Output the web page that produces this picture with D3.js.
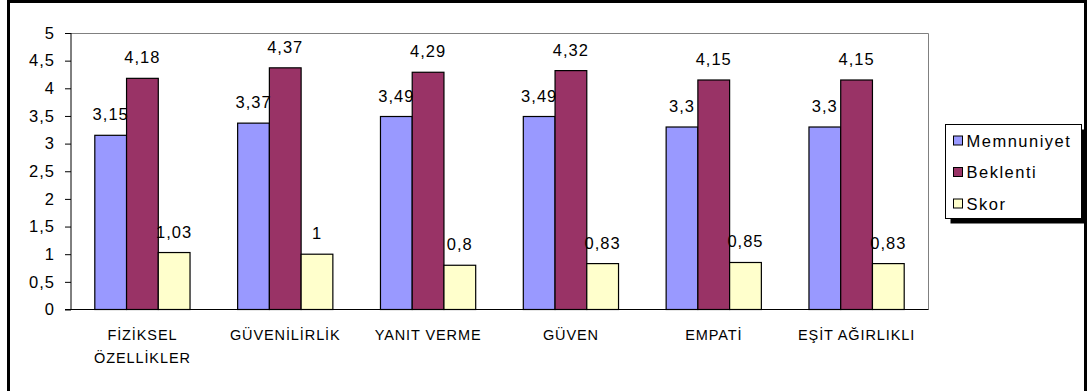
<!DOCTYPE html>
<html>
<head>
<meta charset="utf-8">
<script src="https://cdn.jsdelivr.net/npm/d3@7"></script>
<style>
  html, body { margin: 0; padding: 0; background: #fff; overflow: hidden; }
  svg { display: block; }
  text { font-family: "Liberation Sans", Arial, sans-serif; fill: #000; }
</style>
</head>
<body>
<svg id="chart" width="1088" height="391"></svg>
<script>
// Service quality dimensions and their scores
const categories = [["FİZİKSEL", "ÖZELLİKLER"], ["GÜVENİLİRLİK"], ["YANIT VERME"], ["GÜVEN"], ["EMPATİ"], ["EŞİT AĞIRLIKLI"]];
const seriesNames = ["Memnuniyet", "Beklenti", "Skor"];
const memnuniyet = [3.15, 3.37, 3.49, 3.49, 3.3, 3.3];
const beklenti = [4.18, 4.37, 4.29, 4.32, 4.15, 4.15];
const skor = [1.03, 1, 0.8, 0.83, 0.85, 0.83];
const yTicks = [0, 0.5, 1, 1.5, 2, 2.5, 3, 3.5, 4, 4.5, 5];
const colors = ["#9999FF", "#993366", "#FFFFCC"];

const seriesValues = [memnuniyet, beklenti, skor];
const fmt = v => String(v).replace(".", ",");

const svg = d3.select("#chart");

// Outer chart frame
svg.append("rect")
  .attr("x", 8.5).attr("y", 1.5)
  .attr("width", 1077).attr("height", 400)
  .attr("fill", "#fff").attr("stroke", "#000").attr("stroke-width", 3);

const plot = { left: 71, right: 928, top: 33, bottom: 309.5 };

const x0 = d3.scaleBand()
  .domain(d3.range(categories.length))
  .range([plot.left, plot.right])
  .paddingInner(0).paddingOuter(0);

const barW = x0.bandwidth() / 4.5;
const x1 = d3.scaleBand()
  .domain(d3.range(seriesNames.length))
  .range([0, barW * 3]);

const y = d3.scaleLinear().domain([0, 5]).range([plot.bottom, plot.top]);

// Plot area border (top and right)
svg.append("path")
  .attr("d", `M${plot.left},${plot.top + 0.5}H${plot.right + 0.5}V${plot.bottom}`)
  .attr("fill", "none").attr("stroke", "#808080").attr("stroke-width", 1);

// Bars
const groups = svg.append("g").selectAll("g")
  .data(categories)
  .join("g")
  .attr("transform", (d, i) => `translate(${x0(i) + (x0.bandwidth() - barW * 3) / 2},0)`);

groups.selectAll("rect")
  .data((d, i) => seriesValues.map((vals, s) => ({ s, v: vals[i] })))
  .join("rect")
  .attr("x", d => x1(d.s))
  .attr("y", d => y(d.v))
  .attr("width", x1.bandwidth())
  .attr("height", d => y(0) - y(d.v))
  .attr("fill", d => colors[d.s])
  .attr("stroke", "#000").attr("stroke-width", 1.2);

// Value labels
groups.selectAll("text.val")
  .data((d, i) => seriesValues.map((vals, s) => ({ s, v: vals[i] })))
  .join("text")
  .attr("class", "val")
  .attr("x", d => x1(d.s) + x1.bandwidth() / 2)
  .attr("y", d => y(d.v) - 15)
  .attr("text-anchor", "middle")
  .attr("font-size", 16.5)
  .attr("letter-spacing", 1)
  .text(d => fmt(d.v));

// Value axis
const yAxis = d3.axisLeft(y).tickValues(yTicks).tickSize(6).tickPadding(10).tickFormat(fmt);
const gy = svg.append("g").attr("transform", `translate(${plot.left},0)`).call(yAxis);
gy.select(".domain").attr("stroke", "#000").attr("d", `M0,${plot.top}V${plot.bottom}`);
gy.selectAll(".tick line").attr("stroke", "#000");
gy.selectAll(".tick text")
  .attr("font-size", 16.5).attr("letter-spacing", 1)
  .attr("font-family", "Liberation Sans, Arial, sans-serif")
  .attr("fill", "#000");

// Category axis baseline
svg.append("line")
  .attr("x1", plot.left - 6).attr("x2", plot.right + 0.5)
  .attr("y1", y(0)).attr("y2", y(0))
  .attr("stroke", "#000").attr("stroke-width", 1.2);

// Category labels
const catLabels = svg.append("g").selectAll("text")
  .data(categories)
  .join("text")
  .attr("x", (d, i) => x0(i) + x0.bandwidth() / 2)
  .attr("y", 340)
  .attr("text-anchor", "middle")
  .attr("font-size", 14.5)
  .attr("letter-spacing", 0.9);
catLabels.selectAll("tspan")
  .data(d => d)
  .join("tspan")
  .attr("x", function () { return d3.select(this.parentNode).attr("x"); })
  .attr("dy", (d, i) => i === 0 ? 0 : 23)
  .text(d => d);

// Legend with drop shadow
const lg = { x: 945.5, y: 124.5, w: 136, h: 94 };
svg.append("rect")
  .attr("x", lg.x + 5).attr("y", lg.y + 5)
  .attr("width", lg.w).attr("height", lg.h)
  .attr("fill", "#000");
svg.append("rect")
  .attr("x", lg.x).attr("y", lg.y)
  .attr("width", lg.w).attr("height", lg.h)
  .attr("fill", "#fff").attr("stroke", "#000").attr("stroke-width", 1);

const items = svg.append("g").selectAll("g")
  .data(seriesNames)
  .join("g")
  .attr("transform", (d, i) => `translate(${lg.x + 8},${lg.y + 16 + i * 31.5})`);
items.append("rect")
  .attr("x", 0).attr("y", -4.5)
  .attr("width", 9).attr("height", 9)
  .attr("fill", (d, i) => colors[i])
  .attr("stroke", "#000").attr("stroke-width", 1);
items.append("text")
  .attr("x", 13).attr("y", 6)
  .attr("font-size", 16.5)
  .attr("letter-spacing", 1.5)
  .text(d => d);
</script>
</body>
</html>
